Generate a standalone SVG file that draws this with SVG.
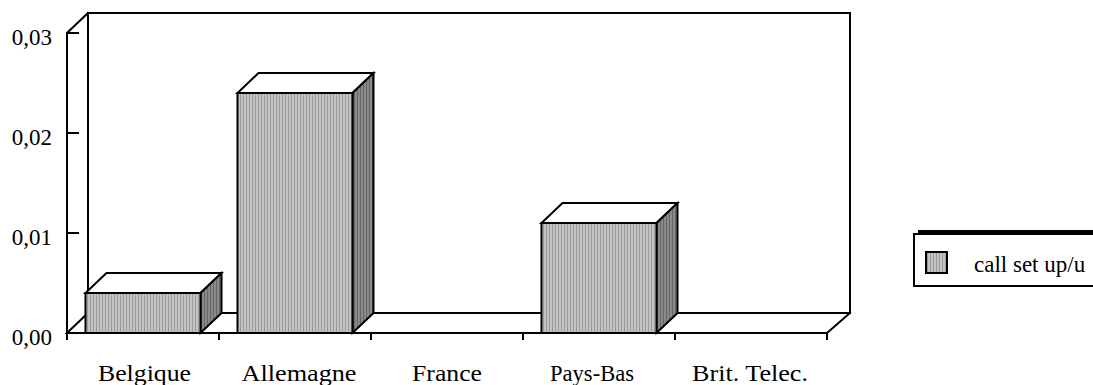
<svg xmlns="http://www.w3.org/2000/svg" width="1093" height="385" viewBox="0 0 1093 385">
<defs>
<pattern id="hatchFront" width="3" height="4" patternUnits="userSpaceOnUse">
<rect width="3" height="4" fill="#c4c4c4"/>
<rect x="0" width="1" height="4" fill="#9c9c9c"/>
</pattern>
<pattern id="hatchSide" width="3" height="4" patternUnits="userSpaceOnUse">
<rect width="3" height="4" fill="#8a8a8a"/>
<rect x="0" width="1" height="4" fill="#666666"/>
</pattern>
</defs>
<style>
.ln{fill:none;stroke:#000;stroke-width:2;stroke-linejoin:miter;stroke-linecap:square}
.front{fill:url(#hatchFront);stroke:#000;stroke-width:2;stroke-linejoin:miter}
.side{fill:url(#hatchSide);stroke:#000;stroke-width:2;stroke-linejoin:miter}
.top{fill:#fff;stroke:#000;stroke-width:2;stroke-linejoin:miter}
text{font-family:Liberation Serif, Times New Roman, serif;font-size:23px;fill:#000}
</style>
<rect width="1093" height="385" fill="#fff"/>
<g id="walls">
<polyline class="ln" points="88,313 88,13 850,13 850,313 88,313"/>
<polyline class="ln" points="67,339 67,33 88,13"/>
<polyline class="ln" points="88,313 67,333 827,333 850,313"/>
</g>
<g id="ticks">
<path class="ln" d="M67,33H78M67,133H78M67,233H78M67,333V339M219,333V339M371,333V339M523,333V339M675,333V339M827,333V339"/>
</g>
<g id="bar-belgique">
<polygon class="top" points="85.5,293 106.5,273 221.5,273 200.5,293"/>
<polygon class="side" points="200.5,293 221.5,273 221.5,313 200.5,333"/>
<rect class="front" x="85.5" y="293" width="115" height="40"/>
</g>
<g id="bar-allemagne">
<polygon class="top" points="237.5,93 258.5,73 373.5,73 352.5,93"/>
<polygon class="side" points="352.5,93 373.5,73 373.5,313 352.5,333"/>
<rect class="front" x="237.5" y="93" width="115" height="240"/>
</g>
<g id="bar-paysbas">
<polygon class="top" points="541.5,223 562.5,203 677.5,203 656.5,223"/>
<polygon class="side" points="656.5,223 677.5,203 677.5,313 656.5,333"/>
<rect class="front" x="541.5" y="223" width="115" height="110"/>
</g>
<g id="y-labels" text-anchor="end">
<text x="52" y="45">0,03</text>
<text x="52" y="145">0,02</text>
<text x="52" y="245">0,01</text>
<text x="52" y="345">0,00</text>
</g>
<g id="x-labels" text-anchor="middle">
<text x="144.5" y="381" textLength="93" lengthAdjust="spacingAndGlyphs">Belgique</text>
<text x="299" y="381" textLength="115" lengthAdjust="spacingAndGlyphs">Allemagne</text>
<text x="447" y="381" textLength="70" lengthAdjust="spacingAndGlyphs">France</text>
<text x="592" y="381" textLength="84" lengthAdjust="spacingAndGlyphs">Pays-Bas</text>
<text x="750" y="381" textLength="116" lengthAdjust="spacingAndGlyphs">Brit. Telec.</text>
</g>
<g id="legend">
<line x1="918" y1="231.5" x2="1093" y2="231.5" stroke="#000" stroke-width="3"/>
<rect x="914" y="234" width="200" height="52" fill="#fff" stroke="#000" stroke-width="2"/>
<rect class="front" x="926" y="252" width="21" height="21"/>
<text x="974" y="272">call set up/u</text>
</g>
</svg>
